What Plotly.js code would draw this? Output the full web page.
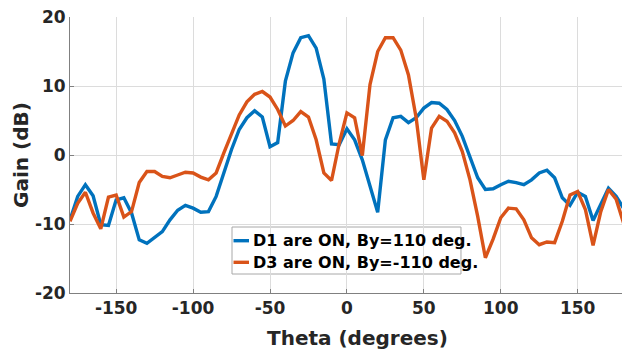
<!DOCTYPE html>
<html>
<head>
<meta charset="utf-8">
<script src="https://cdn.plot.ly/plotly-3.0.1.min.js"></script>
<style>html,body{margin:0;padding:0;background:#fff;}#chart{width:622px;height:354px;}</style>
</head>
<body>
<div id="chart"></div>
<script>
const theta = [-180,-175,-170,-165,-160,-155,-150,-145,-140,-135,-130,-125,-120,-115,-110,-105,-100,-95,-90,-85,-80,-75,-70,-65,-60,-55,-50,-45,-40,-35,-30,-25,-20,-15,-10,-5,0,5,10,15,20,25,30,35,40,45,50,55,60,65,70,75,80,85,90,95,100,105,110,115,120,125,130,135,140,145,150,155,160,165,170,175,180];
const gainD1 = [-9.4,-6.0,-4.3,-5.9,-10.1,-10.2,-6.5,-6.2,-8.4,-12.3,-12.8,-11.9,-11.1,-9.4,-8.0,-7.3,-7.7,-8.3,-8.2,-6.0,-2.6,0.8,3.7,5.4,6.4,5.5,1.2,1.8,10.7,14.8,17.0,17.3,15.5,11.0,1.6,1.5,3.8,2.2,-0.7,-4.6,-8.3,2.2,5.4,5.6,4.7,5.4,6.8,7.6,7.5,6.6,5.0,2.7,-0.2,-3.3,-5.0,-4.9,-4.3,-3.8,-4.0,-4.3,-3.6,-2.6,-2.2,-3.3,-6.2,-7.3,-5.4,-6.0,-9.5,-7.0,-4.8,-6.0,-7.8];
const gainD3 = [-9.6,-7.0,-5.4,-8.4,-10.7,-6.1,-5.8,-9.0,-8.2,-4.0,-2.4,-2.4,-3.1,-3.3,-2.9,-2.5,-2.6,-3.2,-3.6,-2.6,0.3,3.2,5.8,7.7,8.8,9.2,8.4,6.6,4.2,5.0,6.3,5.5,2.2,-2.6,-3.7,1.7,6.1,5.4,-0.1,10.2,15.0,17.0,17.0,15.2,11.6,5.4,-3.6,3.9,5.6,4.9,3.2,0.5,-3.6,-8.9,-14.9,-12.2,-9.1,-7.7,-7.8,-9.4,-12.0,-13.0,-12.6,-12.7,-9.6,-5.8,-5.3,-7.9,-13.1,-8.2,-5.0,-6.4,-10.0];
const seriesNames = ["D1 are ON, By=110 deg.", "D3 are ON, By=-110 deg."];
const seriesColors = ["#0072BD", "#D95319"];
const xTicks = [-150,-100,-50,0,50,100,150];
const yTicks = [-20,-10,0,10,20];
const xTitle = "Theta (degrees)";
const yTitle = "Gain (dB)";

const FONT = "DejaVu Sans, Liberation Sans, Arial, sans-serif";
const traces = [gainD1, gainD3].map((g, i) => ({
  x: theta, y: g, type: "scatter", mode: "lines", name: seriesNames[i],
  line: {color: seriesColors[i], width: 3.4}, showlegend: false
}));

// legend box (drawn as shapes + annotations, like the MATLAB legend)
const legX0 = 0.2935, legX1 = 0.7083, legY0 = 0.0688, legY1 = 0.2391;
const rowY = [0.1895, 0.1112];
const shapes = [
  {type: "rect", xref: "paper", yref: "paper", x0: legX0, x1: legX1, y0: legY0, y1: legY1,
   fillcolor: "#fff", line: {color: "#a8a8a8", width: 1}, layer: "below"}
];
const annotations = [];
seriesNames.forEach((n, i) => {
  shapes.push({type: "line", xref: "paper", yref: "paper", x0: 0.2962, x1: 0.3243, y0: rowY[i], y1: rowY[i],
    line: {color: seriesColors[i], width: 3.4}, layer: "above"});
  annotations.push({xref: "paper", yref: "paper", x: 0.328, y: rowY[i], xanchor: "left", yanchor: "middle",
    text: n, showarrow: false, font: {family: FONT, size: 16, color: "#000", weight: "bold"}});
});
annotations.push({xref: "paper", yref: "paper", x: 0.5208, y: -0.163, xanchor: "center", yanchor: "middle",
  text: xTitle, showarrow: false, font: {family: FONT, size: 20, color: "#262626", weight: "bold"}});

const layout = {
  width: 622, height: 354,
  margin: {l: 70, r: 0, t: 17, b: 61, pad: 0},
  paper_bgcolor: "#fff", plot_bgcolor: "#fff",
  font: {family: FONT, color: "#262626"},
  showlegend: false,
  shapes: shapes, annotations: annotations,
  xaxis: {
    range: [-180, 178.8], tickvals: xTicks, ticktext: xTicks.map(String),
    showgrid: true, gridcolor: "#dcdcdc", gridwidth: 1,
    zeroline: false, showline: true, linecolor: "#808080", linewidth: 1,
    ticks: "inside", ticklen: 4, tickcolor: "#808080",
    tickfont: {family: FONT, size: 17, color: "#262626", weight: "bold"}
  },
  yaxis: {
    range: [-20, 20], tickvals: yTicks, ticktext: yTicks.map(String),
    showgrid: true, gridcolor: "#dcdcdc", gridwidth: 1,
    zeroline: false, showline: true, linecolor: "#808080", linewidth: 1,
    ticks: "inside", ticklen: 4, tickcolor: "#808080",
    tickfont: {family: FONT, size: 17, color: "#262626", weight: "bold"},
    title: {text: yTitle, font: {family: FONT, size: 20, color: "#262626", weight: "bold"}, standoff: 0}
  }
};
Plotly.newPlot("chart", traces, layout, {displayModeBar: false, staticPlot: true});
</script>
</body>
</html>
